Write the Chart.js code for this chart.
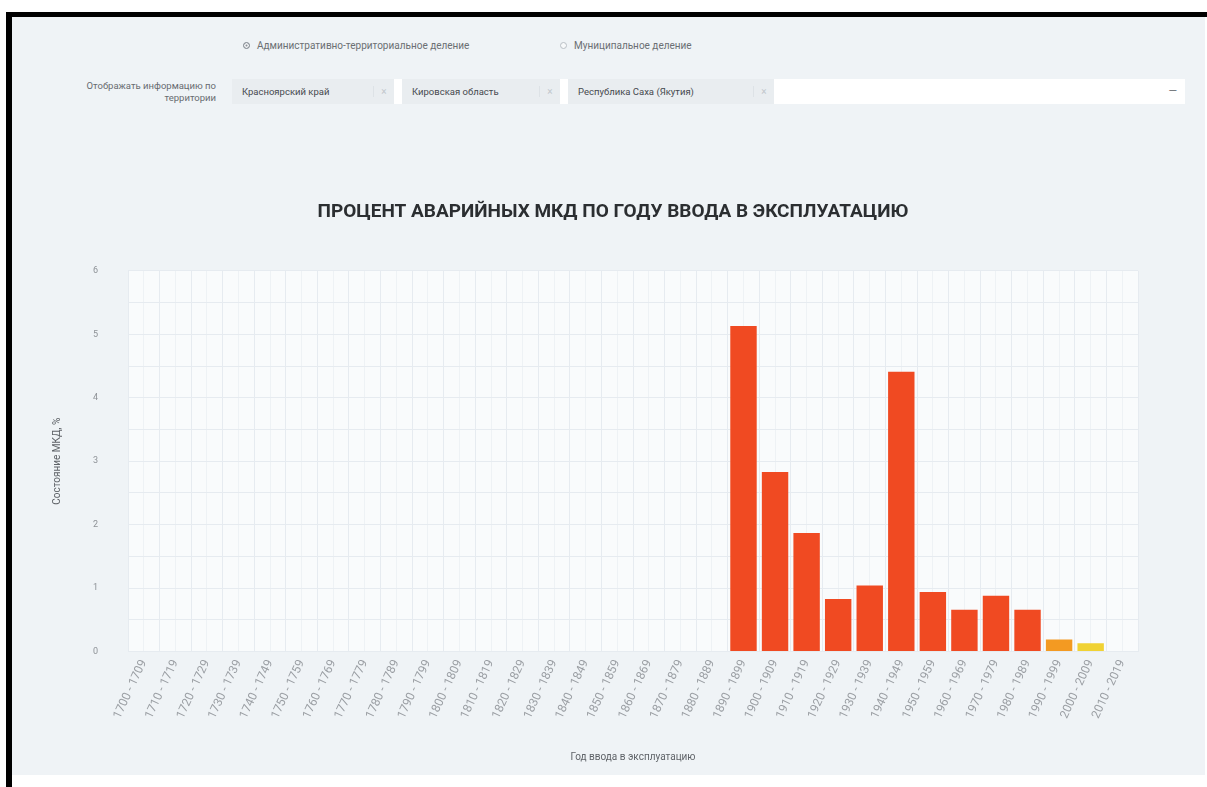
<!DOCTYPE html>
<html lang="ru">
<head>
<meta charset="utf-8">
<title>Процент аварийных МКД по году ввода в эксплуатацию</title>
<script src="https://cdn.jsdelivr.net/npm/chart.js@4/dist/chart.umd.min.js"></script>
<style>
  html, body { margin: 0; padding: 0; background: #ffffff; }
  body { width: 1207px; height: 787px; position: relative; overflow: hidden; font-family: Roboto, "Noto Sans", sans-serif; }
  .frame { position: absolute; left: 6px; top: 12px; width: 1201px; height: 775px; border-top: 5px solid #000; border-left: 6px solid #000; box-sizing: border-box; }
  .panel { position: absolute; left: 12px; top: 17px; width: 1193px; height: 758px; background: #eff3f6; }
  .radio { position: absolute; top: 40px; font-size: 10px; color: #6b6f73; display: flex; align-items: center; gap: 7px; white-space: nowrap; }
  .radio i { display: inline-block; width: 7px; height: 7px; border-radius: 50%; border: 1px solid #b9bfc5; background: #f7f9fa; box-sizing: border-box; }
  .radio i.on { background: #8a9097; border-color: #8a9097; box-shadow: inset 0 0 0 1.5px #f3f5f7; }
  .caption { position: absolute; left: 30px; top: 80px; width: 186px; text-align: right; font-size: 9.5px; line-height: 12px; color: #676b70; }
  .chips { position: absolute; left: 232px; top: 79px; height: 25px; width: 953px; background: #ffffff; display: flex; }
  .chip { height: 25px; background: #e9edf0; display: flex; align-items: center; font-size: 9.5px; color: #45494e; padding-left: 10px; box-sizing: border-box; margin-right: 8px; }
  .chip span.x { margin-left: auto; width: 20px; text-align: center; color: #c2c7cc; font-size: 10px; border-left: 1px solid #dde2e6; }
  .dash { position: absolute; right: 30px; top: 84px; font-size: 11px; color: #6b6f73; }
  .chart-box { position: absolute; left: 40px; top: 180px; width: 1135px; height: 592px; }
</style>
</head>
<body>
<div class="frame"></div>
<div class="panel"></div>

<div class="radio" style="left:243px;"><i class="on"></i>Административно-территориальное деление</div>
<div class="radio" style="left:560px;"><i></i>Муниципальное деление</div>
<div class="caption">Отображать информацию по<br>территории</div>
<div class="chips">
  <div class="chip" style="width:162px;">Красноярский край<span class="x">×</span></div>
  <div class="chip" style="width:158px;">Кировская область<span class="x">×</span></div>
  <div class="chip" style="width:206px;">Республика Саха (Якутия)<span class="x">×</span></div>
</div>
<div class="dash">—</div>

<div class="chart-box"><canvas id="chart"></canvas></div>

<script>
// Decades of commissioning shown along the x axis
const decades = [
  "1700 - 1709", "1710 - 1719", "1720 - 1729", "1730 - 1739", "1740 - 1749",
  "1750 - 1759", "1760 - 1769", "1770 - 1779", "1780 - 1789", "1790 - 1799",
  "1800 - 1809", "1810 - 1819", "1820 - 1829", "1830 - 1839", "1840 - 1849",
  "1850 - 1859", "1860 - 1869", "1870 - 1879", "1880 - 1889", "1890 - 1899",
  "1900 - 1909", "1910 - 1919", "1920 - 1929", "1930 - 1939", "1940 - 1949",
  "1950 - 1959", "1960 - 1969", "1970 - 1979", "1980 - 1989", "1990 - 1999",
  "2000 - 2009", "2010 - 2019"
];

// Share of emergency apartment buildings, %
const emergencyShare = [
  null, null, null, null, null, null, null, null, null, null,
  null, null, null, null, null, null, null, null, null, 5.13,
  2.83, 1.87, 0.83, 1.04, 4.41, 0.94, 0.66, 0.88, 0.66, 0.19,
  0.13, null
];

// Fill colour of each bar
const barColors = [
  "#f04a22", "#f04a22", "#f04a22", "#f04a22", "#f04a22", "#f04a22", "#f04a22", "#f04a22",
  "#f04a22", "#f04a22", "#f04a22", "#f04a22", "#f04a22", "#f04a22", "#f04a22", "#f04a22",
  "#f04a22", "#f04a22", "#f04a22", "#f04a22", "#f04a22", "#f04a22", "#f04a22", "#f04a22",
  "#f04a22", "#f04a22", "#f04a22", "#f04a22", "#f04a22", "#f39a22", "#f0d234", "#f0d234"
];

const yTickValues = [0, 1, 2, 3, 4, 5, 6];

// Paints the plotting area lighter than the surrounding panel
const plotBackground = {
  id: "plotBackground",
  beforeDraw(chart) {
    const { ctx, chartArea: a } = chart;
    ctx.save();
    ctx.fillStyle = "#f9fbfc";
    ctx.fillRect(a.left, a.top, a.right - a.left, a.bottom - a.top);
    ctx.restore();
  }
};

new Chart(document.getElementById("chart"), {
  type: "bar",
  data: {
    labels: decades,
    datasets: [{
      label: "Аварийные МКД, %",
      data: emergencyShare,
      backgroundColor: barColors,
      borderWidth: 0,
      categoryPercentage: 0.93,
      barPercentage: 0.9
    }]
  },
  options: {
    responsive: true,
    maintainAspectRatio: false,
    animation: false,
    layout: { padding: { left: 11, right: 0, top: 10, bottom: 0 } },
    plugins: {
      legend: { display: false },
      tooltip: { enabled: false },
      title: {
        display: true,
        text: "ПРОЦЕНТ АВАРИЙНЫХ МКД ПО ГОДУ ВВОДА В ЭКСПЛУАТАЦИЮ",
        color: "#2b2e31",
        font: { family: "Roboto", size: 19, weight: "bold" },
        padding: { top: 11, bottom: 47 }
      }
    },
    scales: {
      x: {
        grid: { offset: true, color: "#e6ebf0", lineWidth: 1, drawTicks: false },
        border: { display: false },
        ticks: {
          color: "#9a9ea3",
          font: { family: "Roboto", size: 12 },
          minRotation: 65,
          maxRotation: 65,
          autoSkip: false,
          padding: 6
        },
        title: {
          display: true,
          text: "Год ввода в эксплуатацию",
          color: "#5f6368",
          font: { family: "Roboto", size: 10 },
          padding: { top: 24, bottom: 9 }
        }
      },
      x2: {
        type: "category",
        labels: decades,
        position: "bottom",
        offset: true,
        grid: { offset: false, color: "#eef2f5", lineWidth: 1, drawTicks: false },
        border: { display: false },
        ticks: { display: false }
      },
      y: {
        min: 0,
        max: 6,
        afterBuildTicks(scale) {
          const t = [];
          for (let v = 0; v <= 6; v += 0.5) t.push({ value: v });
          scale.ticks = t;
        },
        grid: { color: "#e6ebf0", drawTicks: false },
        border: { display: false },
        ticks: {
          color: "#8d9196",
          font: { family: "Roboto", size: 9 },
          padding: 30,
          callback: (v) => (yTickValues.includes(v) ? String(v) : "")
        },
        title: {
          display: true,
          text: "Состояние МКД, %",
          color: "#5f6368",
          font: { family: "Roboto", size: 10 },
          padding: { top: 0, bottom: 0 }
        }
      },
      // empty margin on the right of the plot
      yRight: {
        position: "right",
        min: 0,
        max: 6,
        grid: { display: false },
        border: { display: false },
        ticks: { display: false },
        afterFit(scale) { scale.width = 37; }
      }
    }
  },
  plugins: [plotBackground]
});
</script>
</body>
</html>
